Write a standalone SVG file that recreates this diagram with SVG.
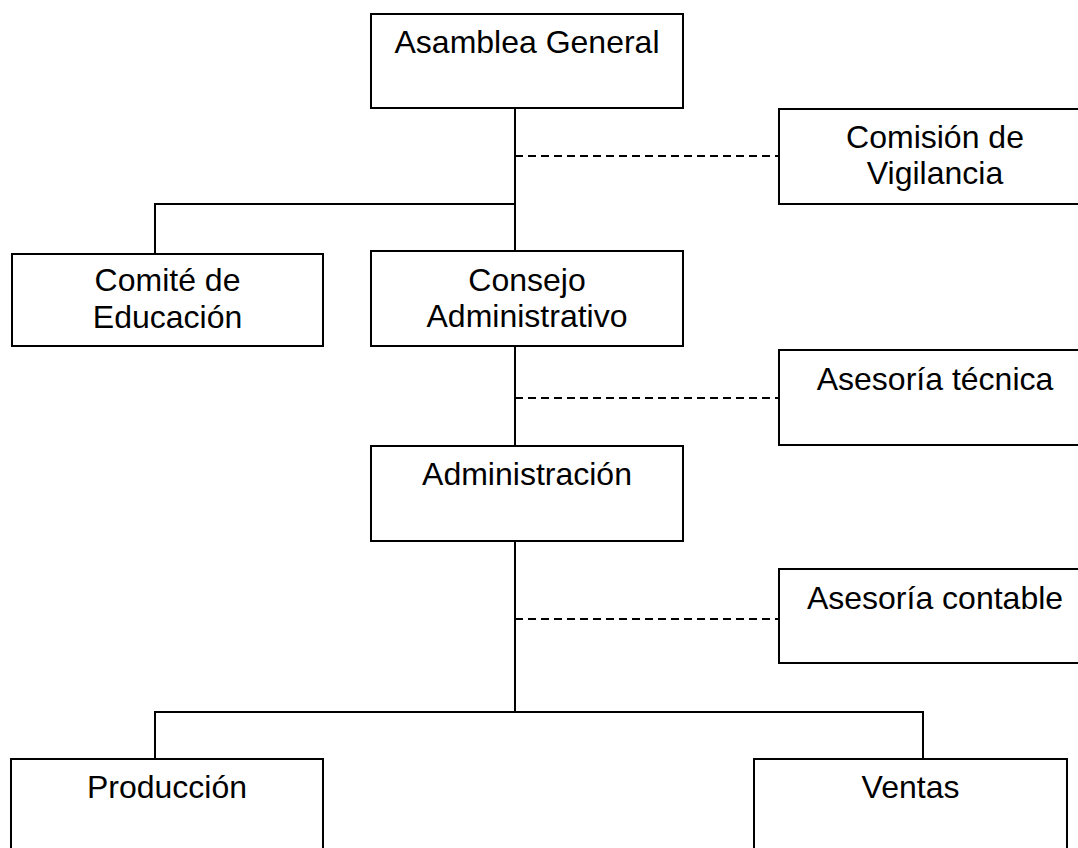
<svg xmlns="http://www.w3.org/2000/svg" width="1078" height="848" viewBox="0 0 1078 848">
<style>
.box{fill:#fff;stroke:#000;stroke-width:2}
.t{font-family:"Liberation Sans",Arial,sans-serif;font-size:32px;fill:#000;text-anchor:middle}
.ln{fill:none;stroke:#000;stroke-width:2}
.dash{fill:none;stroke:#000;stroke-width:2;stroke-dasharray:8 5}
</style>
<rect width="1078" height="848" fill="#fff"/>
<g id="connectors">
<path class="ln" d="M515 108V251M515 346V446M515 541V712"/>
<path class="ln" d="M155 254V204H515"/>
<path class="ln" d="M155 759V712H923V759"/>
<path class="dash" d="M515 156H779M515 398H779M515 619H779"/>
</g>
<g id="asamblea"><rect class="box" x="371" y="14" width="312" height="94"/><text class="t" x="527" y="53">Asamblea General</text></g>
<g id="comision"><rect class="box" x="779" y="109" width="312" height="95"/><text class="t" x="935" y="148">Comisión de</text><text class="t" x="935" y="184">Vigilancia</text></g>
<g id="comite"><rect class="box" x="12" y="254" width="311" height="92"/><text class="t" x="167.5" y="291">Comité de</text><text class="t" x="167.5" y="328">Educación</text></g>
<g id="consejo"><rect class="box" x="371" y="251" width="312" height="95"/><text class="t" x="527" y="291">Consejo</text><text class="t" x="527" y="327">Administrativo</text></g>
<g id="tecnica"><rect class="box" x="779" y="350" width="312" height="95"/><text class="t" x="935" y="390">Asesoría técnica</text></g>
<g id="administracion"><rect class="box" x="371" y="446" width="312" height="95"/><text class="t" x="527" y="485">Administración</text></g>
<g id="contable"><rect class="box" x="779" y="569" width="312" height="94"/><text class="t" x="935" y="609">Asesoría contable</text></g>
<g id="produccion"><rect class="box" x="11" y="759" width="312" height="100"/><text class="t" x="167" y="798">Producción</text></g>
<g id="ventas"><rect class="box" x="754" y="759" width="313" height="100"/><text class="t" x="910.5" y="798">Ventas</text></g>
</svg>
